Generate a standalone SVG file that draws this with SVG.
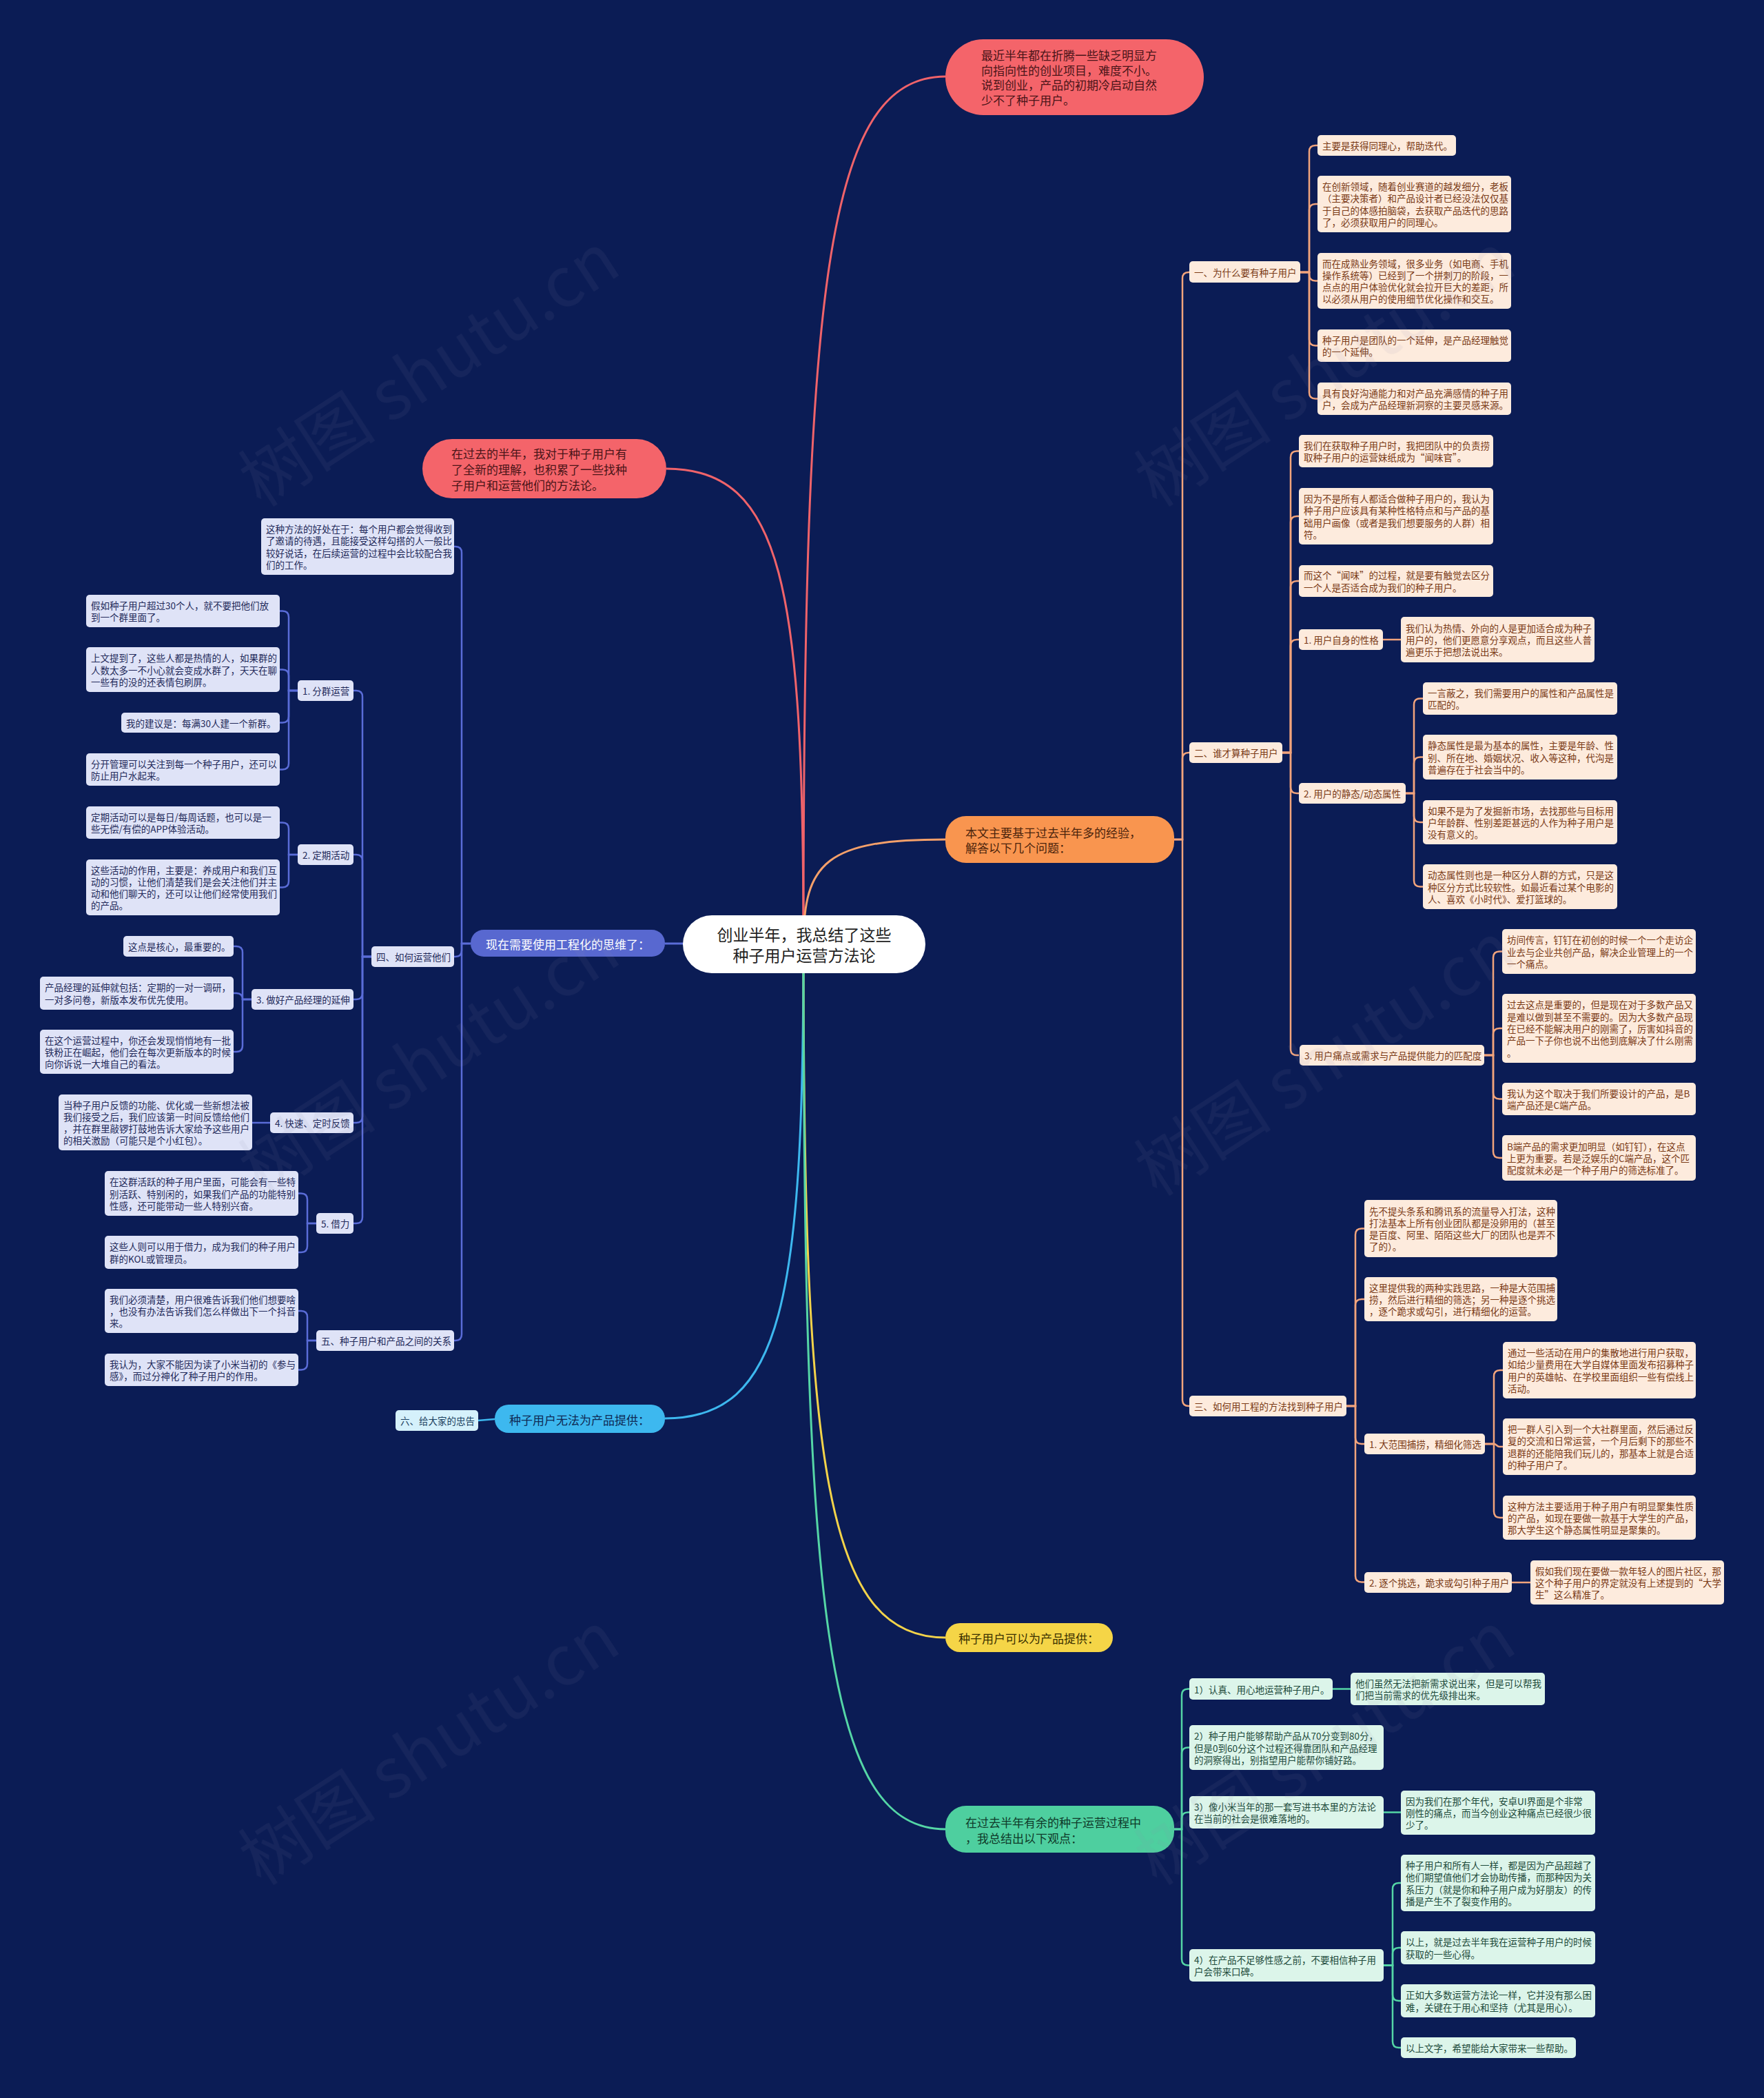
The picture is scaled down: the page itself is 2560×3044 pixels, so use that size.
<svg xmlns="http://www.w3.org/2000/svg" width="2560" height="3044" viewBox="0 0 2560 3044">
<style>
text{font-family:"Noto Sans CJK SC","Noto Sans",sans-serif;dominant-baseline:central}
.s{font-size:13.5px}
.m{font-size:17px}
.ot{fill:#7a3a16}
.lt{fill:#232a5a}
.gt{fill:#1d4a3a}
.ob{fill:#fdebdd}
.lb{fill:#dfe3f7}
.gb{fill:#dcf5ea}
.co{stroke:#f2a47c;fill:none;stroke-width:2.5}
.cb{stroke:#5a6cd8;fill:none;stroke-width:2.5}
.cg{stroke:#55d6a6;fill:none;stroke-width:2.5}
.cc{stroke:#3db8ef;fill:none;stroke-width:2.5}
.r0{stroke-width:3;fill:none}
</style>
<rect width="2560" height="3044" fill="#0b1c55"/>

<g id="connectors">
  <path class="r0" stroke="#f0636a" d="M1166 1370 C1166 426 1197 111 1372 111"/>
  <path class="r0" stroke="#f0636a" d="M1166 1370 C1166 852 1136 680 967 680"/>
  <path class="r0" stroke="#f5a06a" d="M1166 1370 C1166 1250 1200 1218 1372 1218"/>
  <path class="r0" stroke="#5a6cd8" d="M1166 1369 H965"/>
  <path class="r0" stroke="#3db8ef" d="M1166 1370 C1166 1886 1136 2058 965 2058"/>
  <path class="r0" stroke="#f3d34a" d="M1166 1370 C1166 2124 1197 2376 1372 2376"/>
  <path class="r0" stroke="#55d6a6" d="M1166 1370 C1166 2333 1197 2654 1372 2654"/>
  <path class="cc" d="M718 2059 L694 2061"/>

  <path class="co" d="M1704 1218 H1716 V404 Q1716 395 1725 395 H1726"/>
  <path class="co" d="M1704 1218 H1716 V1101 Q1716 1092 1725 1092 H1727"/>
  <path class="co" d="M1704 1218 H1716 V2031 Q1716 2040 1725 2040 H1726"/>

  <path class="co" d="M1887 395 H1900 V220 Q1900 211 1909 211 H1912"/>
  <path class="co" d="M1887 395 H1900 V305 Q1900 296 1909 296 H1912"/>
  <path class="co" d="M1887 395 H1900 V398.5 Q1900 407.5 1909 407.5 H1912"/>
  <path class="co" d="M1887 395 H1900 V492.5 Q1900 501.5 1909 501.5 H1912"/>
  <path class="co" d="M1887 395 H1900 V569.5 Q1900 578.5 1909 578.5 H1912"/>

  <path class="co" d="M1861 1092 H1873 V663.5 Q1873 654.5 1882 654.5 H1885"/>
  <path class="co" d="M1861 1092 H1873 V758 Q1873 749 1882 749 H1885"/>
  <path class="co" d="M1861 1092 H1873 V852 Q1873 843 1882 843 H1885"/>
  <path class="co" d="M1861 1092 H1873 V937 Q1873 928 1882 928 H1885"/>
  <path class="co" d="M1861 1092 H1873 V1142 Q1873 1151 1882 1151 H1885"/>
  <path class="co" d="M1861 1092 H1873 V1522 Q1873 1531 1882 1531 H1885"/>
  <path class="co" d="M2007 928 H2033"/>
  <path class="co" d="M2040 1151 H2052 V1022.5 Q2052 1013.5 2061 1013.5 H2065"/>
  <path class="co" d="M2040 1151 H2052 V1107.5 Q2052 1098.5 2061 1098.5 H2065"/>
  <path class="co" d="M2040 1151 H2052 V1184 Q2052 1193 2061 1193 H2065"/>
  <path class="co" d="M2040 1151 H2052 V1277.5 Q2052 1286.5 2061 1286.5 H2065"/>
  <path class="co" d="M2154 1531 H2167 V1389.5 Q2167 1380.5 2176 1380.5 H2180"/>
  <path class="co" d="M2154 1531 H2167 V1501 Q2167 1492 2176 1492 H2180"/>
  <path class="co" d="M2154 1531 H2167 V1585.5 Q2167 1594.5 2176 1594.5 H2180"/>
  <path class="co" d="M2154 1531 H2167 V1671 Q2167 1680 2176 1680 H2180"/>

  <path class="co" d="M1954 2040 H1967 V1791.5 Q1967 1782.5 1976 1782.5 H1980"/>
  <path class="co" d="M1954 2040 H1967 V1894 Q1967 1885 1976 1885 H1980"/>
  <path class="co" d="M1954 2040 H1967 V2086 Q1967 2095 1976 2095 H1980"/>
  <path class="co" d="M1954 2040 H1967 V2286.5 Q1967 2295.5 1976 2295.5 H1980"/>
  <path class="co" d="M2155 2095 H2168 V1997 Q2168 1988 2177 1988 H2181"/>
  <path class="co" d="M2155 2095 H2168 C2172 2095 2172 2099 2176 2099 H2181"/>
  <path class="co" d="M2155 2095 H2168 V2193 Q2168 2202 2177 2202 H2181"/>
  <path class="co" d="M2194 2296 H2221"/>

  <path class="cg" d="M1704 2654 H1715 V2459.5 Q1715 2450.5 1724 2450.5 H1726"/>
  <path class="cg" d="M1704 2654 H1715 V2544.5 Q1715 2535.5 1724 2535.5 H1726"/>
  <path class="cg" d="M1704 2654 H1715 V2638.5 Q1715 2629.5 1724 2629.5 H1726"/>
  <path class="cg" d="M1704 2654 H1715 V2842.5 Q1715 2851.5 1724 2851.5 H1726"/>
  <path class="cg" d="M1934 2450.5 H1960"/>
  <path class="cg" d="M2008 2629.5 H2033"/>
  <path class="cg" d="M2008 2851.5 H2021 V2741 Q2021 2732 2030 2732 H2033"/>
  <path class="cg" d="M2008 2851.5 H2021 V2835 Q2021 2826 2030 2826 H2033"/>
  <path class="cg" d="M2008 2851.5 H2021 V2894 Q2021 2903 2030 2903 H2033"/>
  <path class="cg" d="M2008 2851.5 H2021 V2962 Q2021 2971 2030 2971 H2033"/>

  <path class="cb" d="M683 1369 H670 V802 Q670 793 661 793 H659"/>
  <path class="cb" d="M683 1369 H670 V1379 Q670 1388 661 1388 H659"/>
  <path class="cb" d="M683 1369 H670 V1936 Q670 1945 661 1945 H659"/>
  <path class="cb" d="M539 1388 H526 V1011 Q526 1002 517 1002 H513"/>
  <path class="cb" d="M539 1388 H526 V1249 Q526 1240 517 1240 H513"/>
  <path class="cb" d="M539 1388 H526 V1441 Q526 1450 517 1450 H513"/>
  <path class="cb" d="M539 1388 H526 V1620 Q526 1629 517 1629 H513"/>
  <path class="cb" d="M539 1388 H526 V1766 Q526 1775 517 1775 H513"/>
  <path class="cb" d="M432 1002 H419 V895.5 Q419 886.5 410 886.5 H406"/>
  <path class="cb" d="M432 1002 H419 V980.5 Q419 971.5 410 971.5 H406"/>
  <path class="cb" d="M432 1002 H419 V1039.5 Q419 1048.5 410 1048.5 H406"/>
  <path class="cb" d="M432 1002 H419 V1107.5 Q419 1116.5 410 1116.5 H406"/>
  <path class="cb" d="M432 1240 H419 V1202.5 Q419 1193.5 410 1193.5 H406"/>
  <path class="cb" d="M432 1240 H419 V1278.5 Q419 1287.5 410 1287.5 H406"/>
  <path class="cb" d="M365 1450 H352 V1382 Q352 1373 343 1373 H339"/>
  <path class="cb" d="M365 1450 H352 Q352 1441 343 1441 H339"/>
  <path class="cb" d="M365 1450 H352 V1517 Q352 1526 343 1526 H339"/>
  <path class="cb" d="M392 1629 H366"/>
  <path class="cb" d="M459 1775 H446 V1740.5 Q446 1731.5 437 1731.5 H433"/>
  <path class="cb" d="M459 1775 H446 V1808 Q446 1817 437 1817 H433"/>
  <path class="cb" d="M459 1945 H446 V1911 Q446 1902 437 1902 H433"/>
  <path class="cb" d="M459 1945 H446 V1978.5 Q446 1987.5 437 1987.5 H433"/>
</g>

<g id="root">
  <rect x="991" y="1328" width="352" height="84" rx="42" fill="#ffffff"/>
  <text x="1167" text-anchor="middle" font-size="23" fill="#222"><tspan x="1167" y="1355">创业半年，我总结了这些</tspan><tspan x="1167" y="1385">种子用户运营方法论</tspan></text>
</g>

<g id="top-red">
  <rect x="1372" y="57" width="375" height="110" rx="55" fill="#f4646a"/>
  <text class="m" fill="#4a1418"><tspan x="1424" y="79">最近半年都在折腾一些缺乏明显方</tspan><tspan x="1424" y="100.5">向指向性的创业项目，难度不小。</tspan><tspan x="1424" y="122">说到创业，产品的初期冷启动自然</tspan><tspan x="1424" y="143.5">少不了种子用户。</tspan></text>
</g>
<g id="left-red">
  <rect x="613" y="637" width="354" height="86" rx="43" fill="#f4646a"/>
  <text class="m" fill="#4a1418"><tspan x="655" y="657.3">在过去的半年，我对于种子用户有</tspan><tspan x="655" y="680">了全新的理解，也积累了一些找种</tspan><tspan x="655" y="702.7">子用户和运营他们的方法论。</tspan></text>
</g>
<g id="orange">
  <rect x="1372" y="1184" width="332" height="68" rx="30" fill="#f9954f"/>
  <text class="m" fill="#4a230c"><tspan x="1401" y="1206.6">本文主要基于过去半年多的经验，</tspan><tspan x="1401" y="1229.3">解答以下几个问题：</tspan></text>
</g>
<g id="blue">
  <rect x="683" y="1349" width="282" height="39" rx="19" fill="#5868d0"/>
  <text class="m" fill="#ffffff" x="824" y="1369" text-anchor="middle">现在需要使用工程化的思维了：</text>
</g>
<g id="cyan">
  <rect x="718" y="2038" width="247" height="41" rx="20" fill="#3db8ef"/>
  <text class="m" fill="#0f2a55" x="841" y="2059" text-anchor="middle">种子用户无法为产品提供：</text>
</g>
<g id="six">
  <rect x="574" y="2046" width="120" height="30" rx="5" fill="#d5f1fb"/>
  <text class="s" fill="#1a4060" x="581" y="2061">六、给大家的忠告</text>
</g>
<g id="yellow">
  <rect x="1372" y="2355" width="243" height="42" rx="21" fill="#f5d547"/>
  <text class="m" fill="#3a3000" x="1493" y="2376" text-anchor="middle">种子用户可以为产品提供：</text>
</g>
<g id="green">
  <rect x="1372" y="2620" width="332" height="68" rx="30" fill="#4ecf9f"/>
  <text class="m" fill="#0f3a2a"><tspan x="1401" y="2643">在过去半年有余的种子运营过程中</tspan><tspan x="1401" y="2666">，我总结出以下观点：</tspan></text>
</g>

<g id="n-yi"><rect class="ob" x="1726" y="379" width="161" height="31" rx="5"/><text class="s ot" x="1733" y="395">一、为什么要有种子用户</text></g>
<g id="n-yi-1"><rect class="ob" x="1912" y="196" width="201" height="30" rx="5"/><text class="s ot" x="1919" y="211">主要是获得同理心，帮助迭代。</text></g>
<g id="n-yi-2"><rect class="ob" x="1912" y="255" width="281" height="82" rx="5"/><text class="s ot"><tspan x="1919" y="270">在创新领域，随着创业赛道的越发细分，老板</tspan><tspan x="1919" y="287.3">（主要决策者）和产品设计者已经没法仅仅基</tspan><tspan x="1919" y="304.6">于自己的体感拍脑袋，去获取产品迭代的思路</tspan><tspan x="1919" y="321.9">了，必须获取用户的同理心。</tspan></text></g>
<g id="n-yi-3"><rect class="ob" x="1912" y="367" width="281" height="81" rx="5"/><text class="s ot"><tspan x="1919" y="381.5">而在成熟业务领域，很多业务（如电商、手机</tspan><tspan x="1919" y="398.8">操作系统等）已经到了一个拼刺刀的阶段，一</tspan><tspan x="1919" y="416.1">点点的用户体验优化就会拉开巨大的差距，所</tspan><tspan x="1919" y="433.4">以必须从用户的使用细节优化操作和交互。</tspan></text></g>
<g id="n-yi-4"><rect class="ob" x="1912" y="478" width="281" height="47" rx="5"/><text class="s ot"><tspan x="1919" y="492.8">种子用户是团队的一个延伸，是产品经理触觉</tspan><tspan x="1919" y="510.1">的一个延伸。</tspan></text></g>
<g id="n-yi-5"><rect class="ob" x="1912" y="555" width="281" height="47" rx="5"/><text class="s ot"><tspan x="1919" y="569.8">具有良好沟通能力和对产品充满感情的种子用</tspan><tspan x="1919" y="587.1">户，会成为产品经理新洞察的主要灵感来源。</tspan></text></g>

<g id="n-er"><rect class="ob" x="1726" y="1077" width="135" height="30" rx="5"/><text class="s ot" x="1733" y="1092">二、谁才算种子用户</text></g>
<g id="n-er-1"><rect class="ob" x="1885" y="631" width="282" height="47" rx="5"/><text class="s ot"><tspan x="1892" y="645.8">我们在获取种子用户时，我把团队中的负责捞</tspan><tspan x="1892" y="663.1">取种子用户的运营妹纸成为“闻味官”。</tspan></text></g>
<g id="n-er-2"><rect class="ob" x="1885" y="708" width="282" height="82" rx="5"/><text class="s ot"><tspan x="1892" y="723">因为不是所有人都适合做种子用户的，我认为</tspan><tspan x="1892" y="740.3">种子用户应该具有某种性格特点和与产品的基</tspan><tspan x="1892" y="757.6">础用户画像（或者是我们想要服务的人群）相</tspan><tspan x="1892" y="774.9">符。</tspan></text></g>
<g id="n-er-3"><rect class="ob" x="1885" y="820" width="282" height="46" rx="5"/><text class="s ot"><tspan x="1892" y="834.3">而这个“闻味”的过程，就是要有触觉去区分</tspan><tspan x="1892" y="851.6">一个人是否适合成为我们的种子用户。</tspan></text></g>
<g id="n-er-4"><rect class="ob" x="1885" y="913" width="122" height="30" rx="5"/><text class="s ot" x="1892" y="928">1. 用户自身的性格</text></g>
<g id="n-er-4-1"><rect class="ob" x="2033" y="895" width="281" height="66" rx="5"/><text class="s ot"><tspan x="2040" y="910.7">我们认为热情、外向的人是更加适合成为种子</tspan><tspan x="2040" y="928">用户的，他们更愿意分享观点，而且这些人普</tspan><tspan x="2040" y="945.3">遍更乐于把想法说出来。</tspan></text></g>
<g id="n-er-5"><rect class="ob" x="1885" y="1136" width="155" height="30" rx="5"/><text class="s ot" x="1892" y="1151">2. 用户的静态/动态属性</text></g>
<g id="n-er-5-1"><rect class="ob" x="2065" y="990" width="282" height="47" rx="5"/><text class="s ot"><tspan x="2072" y="1004.8">一言蔽之，我们需要用户的属性和产品属性是</tspan><tspan x="2072" y="1022.1">匹配的。</tspan></text></g>
<g id="n-er-5-2"><rect class="ob" x="2065" y="1066" width="282" height="65" rx="5"/><text class="s ot"><tspan x="2072" y="1081.2">静态属性是最为基本的属性，主要是年龄、性</tspan><tspan x="2072" y="1098.5">别、所在地、婚姻状况、收入等这种，代沟是</tspan><tspan x="2072" y="1115.8">普遍存在于社会当中的。</tspan></text></g>
<g id="n-er-5-3"><rect class="ob" x="2065" y="1161" width="282" height="64" rx="5"/><text class="s ot"><tspan x="2072" y="1175.7">如果不是为了发掘新市场，去找那些与目标用</tspan><tspan x="2072" y="1193">户年龄群、性别差距甚远的人作为种子用户是</tspan><tspan x="2072" y="1210.3">没有意义的。</tspan></text></g>
<g id="n-er-5-4"><rect class="ob" x="2065" y="1254" width="282" height="65" rx="5"/><text class="s ot"><tspan x="2072" y="1269.2">动态属性则也是一种区分人群的方式，只是这</tspan><tspan x="2072" y="1286.5">种区分方式比较软性。如最近看过某个电影的</tspan><tspan x="2072" y="1303.8">人、喜欢《小时代》、爱打篮球的。</tspan></text></g>
<g id="n-er-6"><rect class="ob" x="1886" y="1516" width="268" height="30" rx="5"/><text class="s ot" x="1893" y="1531">3. 用户痛点或需求与产品提供能力的匹配度</text></g>
<g id="n-er-6-1"><rect class="ob" x="2180" y="1348" width="281" height="65" rx="5"/><text class="s ot"><tspan x="2187" y="1363.2">坊间传言，钉钉在初创的时候一个一个走访企</tspan><tspan x="2187" y="1380.5">业去与企业共创产品，解决企业管理上的一个</tspan><tspan x="2187" y="1397.8">一个痛点。</tspan></text></g>
<g id="n-er-6-2"><rect class="ob" x="2180" y="1442" width="281" height="100" rx="5"/><text class="s ot"><tspan x="2187" y="1457.4">过去这点是重要的，但是现在对于多数产品又</tspan><tspan x="2187" y="1474.7">是难以做到甚至不需要的。因为大多数产品现</tspan><tspan x="2187" y="1492">在已经不能解决用户的刚需了，厉害如抖音的</tspan><tspan x="2187" y="1509.3">产品一下子你也说不出他到底解决了什么刚需</tspan><tspan x="2187" y="1526.6">。</tspan></text></g>
<g id="n-er-6-3"><rect class="ob" x="2180" y="1571" width="281" height="47" rx="5"/><text class="s ot"><tspan x="2187" y="1585.8">我认为这个取决于我们所要设计的产品，是B</tspan><tspan x="2187" y="1603.1">端产品还是C端产品。</tspan></text></g>
<g id="n-er-6-4"><rect class="ob" x="2180" y="1647" width="281" height="66" rx="5"/><text class="s ot"><tspan x="2187" y="1662.7">B端产品的需求更加明显（如钉钉），在这点</tspan><tspan x="2187" y="1680">上更为重要。若是泛娱乐的C端产品，这个匹</tspan><tspan x="2187" y="1697.3">配度就未必是一个种子用户的筛选标准了。</tspan></text></g>

<g id="n-san"><rect class="ob" x="1726" y="2025" width="228" height="30" rx="5"/><text class="s ot" x="1733" y="2040">三、如何用工程的方法找到种子用户</text></g>
<g id="n-san-1"><rect class="ob" x="1980" y="1741" width="280" height="83" rx="5"/><text class="s ot"><tspan x="1987" y="1756.5">先不提头条系和腾讯系的流量导入打法，这种</tspan><tspan x="1987" y="1773.8">打法基本上所有创业团队都是没卵用的（甚至</tspan><tspan x="1987" y="1791.1">是百度、阿里、陌陌这些大厂的团队也是弄不</tspan><tspan x="1987" y="1808.4">了的）。</tspan></text></g>
<g id="n-san-2"><rect class="ob" x="1980" y="1853" width="280" height="64" rx="5"/><text class="s ot"><tspan x="1987" y="1867.7">这里提供我的两种实践思路，一种是大范围捕</tspan><tspan x="1987" y="1885">捞，然后进行精细的筛选；另一种是逐个挑选</tspan><tspan x="1987" y="1902.3">，逐个跪求或勾引，进行精细化的运营。</tspan></text></g>
<g id="n-san-3"><rect class="ob" x="1980" y="2080" width="175" height="30" rx="5"/><text class="s ot" x="1987" y="2095">1. 大范围捕捞，精细化筛选</text></g>
<g id="n-san-3-1"><rect class="ob" x="2181" y="1947" width="280" height="82" rx="5"/><text class="s ot"><tspan x="2188" y="1962">通过一些活动在用户的集散地进行用户获取，</tspan><tspan x="2188" y="1979.3">如给少量费用在大学自媒体里面发布招募种子</tspan><tspan x="2188" y="1996.6">用户的英雄帖、在学校里面组织一些有偿线上</tspan><tspan x="2188" y="2013.9">活动。</tspan></text></g>
<g id="n-san-3-2"><rect class="ob" x="2181" y="2058" width="280" height="82" rx="5"/><text class="s ot"><tspan x="2188" y="2073">把一群人引入到一个大社群里面，然后通过反</tspan><tspan x="2188" y="2090.3">复的交流和日常运营，一个月后剩下的那些不</tspan><tspan x="2188" y="2107.6">退群的还能陪我们玩儿的，那基本上就是合适</tspan><tspan x="2188" y="2124.9">的种子用户了。</tspan></text></g>
<g id="n-san-3-3"><rect class="ob" x="2181" y="2170" width="280" height="64" rx="5"/><text class="s ot"><tspan x="2188" y="2184.7">这种方法主要适用于种子用户有明显聚集性质</tspan><tspan x="2188" y="2202">的产品，如现在要做一款基于大学生的产品，</tspan><tspan x="2188" y="2219.3">那大学生这个静态属性明显是聚集的。</tspan></text></g>
<g id="n-san-4"><rect class="ob" x="1980" y="2281" width="214" height="30" rx="5"/><text class="s ot" x="1987" y="2296">2. 逐个挑选，跪求或勾引种子用户</text></g>
<g id="n-san-4-1"><rect class="ob" x="2221" y="2264" width="281" height="64" rx="5"/><text class="s ot"><tspan x="2228" y="2278.7">假如我们现在要做一款年轻人的图片社区，那</tspan><tspan x="2228" y="2296">这个种子用户的界定就没有上述提到的“大学</tspan><tspan x="2228" y="2313.3">生”这么精准了。</tspan></text></g>

<g id="g-1"><rect class="gb" x="1726" y="2435" width="208" height="31" rx="5"/><text class="s gt" x="1733" y="2450.5">1）认真、用心地运营种子用户。</text></g>
<g id="g-1-1"><rect class="gb" x="1960" y="2427" width="282" height="47" rx="5"/><text class="s gt"><tspan x="1967" y="2441.8">他们虽然无法把新需求说出来，但是可以帮我</tspan><tspan x="1967" y="2459.1">们把当前需求的优先级排出来。</tspan></text></g>
<g id="g-2"><rect class="gb" x="1726" y="2503" width="282" height="65" rx="5"/><text class="s gt"><tspan x="1733" y="2518.2">2）种子用户能够帮助产品从70分变到80分，</tspan><tspan x="1733" y="2535.5">但是0到60分这个过程还得靠团队和产品经理</tspan><tspan x="1733" y="2552.8">的洞察得出，别指望用户能帮你铺好路。</tspan></text></g>
<g id="g-3"><rect class="gb" x="1726" y="2606" width="282" height="47" rx="5"/><text class="s gt"><tspan x="1733" y="2620.8">3）像小米当年的那一套写进书本里的方法论</tspan><tspan x="1733" y="2638.1">在当前的社会是很难落地的。</tspan></text></g>
<g id="g-3-1"><rect class="gb" x="2033" y="2598" width="282" height="64" rx="5"/><text class="s gt"><tspan x="2040" y="2612.7">因为我们在那个年代，安卓UI界面是个非常</tspan><tspan x="2040" y="2630">刚性的痛点，而当今创业这种痛点已经很少很</tspan><tspan x="2040" y="2647.3">少了。</tspan></text></g>
<g id="g-4"><rect class="gb" x="1726" y="2828" width="282" height="47" rx="5"/><text class="s gt"><tspan x="1733" y="2842.8">4）在产品不足够性感之前，不要相信种子用</tspan><tspan x="1733" y="2860.1">户会带来口碑。</tspan></text></g>
<g id="g-4-1"><rect class="gb" x="2033" y="2691" width="282" height="82" rx="5"/><text class="s gt"><tspan x="2040" y="2706">种子用户和所有人一样，都是因为产品超越了</tspan><tspan x="2040" y="2723.3">他们期望值他们才会协助传播，而那种因为关</tspan><tspan x="2040" y="2740.6">系压力（就是你和种子用户成为好朋友）的传</tspan><tspan x="2040" y="2757.9">播是产生不了裂变作用的。</tspan></text></g>
<g id="g-4-2"><rect class="gb" x="2033" y="2802" width="282" height="48" rx="5"/><text class="s gt"><tspan x="2040" y="2817.3">以上，就是过去半年我在运营种子用户的时候</tspan><tspan x="2040" y="2834.6">获取的一些心得。</tspan></text></g>
<g id="g-4-3"><rect class="gb" x="2033" y="2879" width="282" height="48" rx="5"/><text class="s gt"><tspan x="2040" y="2894.3">正如大多数运营方法论一样，它并没有那么困</tspan><tspan x="2040" y="2911.6">难，关键在于用心和坚持（尤其是用心）。</tspan></text></g>
<g id="g-4-4"><rect class="gb" x="2033" y="2956" width="254" height="30" rx="5"/><text class="s gt" x="2040" y="2971">以上文字，希望能给大家带来一些帮助。</text></g>

<g id="b-1"><rect class="lb" x="379" y="752" width="280" height="82" rx="5"/><text class="s lt"><tspan x="386" y="767">这种方法的好处在于：每个用户都会觉得收到</tspan><tspan x="386" y="784.3">了邀请的待遇，且能接受这样勾搭的人一般比</tspan><tspan x="386" y="801.6">较好说话，在后续运营的过程中会比较配合我</tspan><tspan x="386" y="818.9">们的工作。</tspan></text></g>
<g id="b-4"><rect class="lb" x="539" y="1373" width="120" height="30" rx="5"/><text class="s lt" x="546" y="1388">四、如何运营他们</text></g>
<g id="b-5"><rect class="lb" x="459" y="1930" width="200" height="30" rx="5"/><text class="s lt" x="466" y="1945">五、种子用户和产品之间的关系</text></g>
<g id="f-1"><rect class="lb" x="432" y="987" width="81" height="30" rx="5"/><text class="s lt" x="439" y="1002">1. 分群运营</text></g>
<g id="f-1-1"><rect class="lb" x="125" y="863" width="281" height="47" rx="5"/><text class="s lt"><tspan x="132" y="877.8">假如种子用户超过30个人，就不要把他们放</tspan><tspan x="132" y="895.1">到一个群里面了。</tspan></text></g>
<g id="f-1-2"><rect class="lb" x="125" y="939" width="281" height="65" rx="5"/><text class="s lt"><tspan x="132" y="954.2">上文提到了，这些人都是热情的人，如果群的</tspan><tspan x="132" y="971.5">人数太多一不小心就会变成水群了，天天在聊</tspan><tspan x="132" y="988.8">一些有的没的还表情包刷屏。</tspan></text></g>
<g id="f-1-3"><rect class="lb" x="176" y="1034" width="230" height="29" rx="5"/><text class="s lt" x="183" y="1048.5">我的建议是：每满30人建一个新群。</text></g>
<g id="f-1-4"><rect class="lb" x="125" y="1093" width="281" height="47" rx="5"/><text class="s lt"><tspan x="132" y="1107.8">分开管理可以关注到每一个种子用户，还可以</tspan><tspan x="132" y="1125.1">防止用户水起来。</tspan></text></g>
<g id="f-2"><rect class="lb" x="432" y="1225" width="81" height="30" rx="5"/><text class="s lt" x="439" y="1240">2. 定期活动</text></g>
<g id="f-2-1"><rect class="lb" x="125" y="1170" width="281" height="47" rx="5"/><text class="s lt"><tspan x="132" y="1184.8">定期活动可以是每日/每周话题，也可以是一</tspan><tspan x="132" y="1202.1">些无偿/有偿的APP体验活动。</tspan></text></g>
<g id="f-2-2"><rect class="lb" x="125" y="1247" width="281" height="81" rx="5"/><text class="s lt"><tspan x="132" y="1261.5">这些活动的作用，主要是：养成用户和我们互</tspan><tspan x="132" y="1278.8">动的习惯，让他们清楚我们是会关注他们并主</tspan><tspan x="132" y="1296.1">动和他们聊天的，还可以让他们经常使用我们</tspan><tspan x="132" y="1313.4">的产品。</tspan></text></g>
<g id="f-3"><rect class="lb" x="365" y="1435" width="148" height="30" rx="5"/><text class="s lt" x="372" y="1450">3. 做好产品经理的延伸</text></g>
<g id="f-3-1"><rect class="lb" x="179" y="1358" width="160" height="30" rx="5"/><text class="s lt" x="186" y="1373">这点是核心，最重要的。</text></g>
<g id="f-3-2"><rect class="lb" x="58" y="1417" width="281" height="48" rx="5"/><text class="s lt"><tspan x="65" y="1432.3">产品经理的延伸就包括：定期的一对一调研，</tspan><tspan x="65" y="1449.6">一对多问卷，新版本发布优先使用。</tspan></text></g>
<g id="f-3-3"><rect class="lb" x="58" y="1494" width="281" height="64" rx="5"/><text class="s lt"><tspan x="65" y="1508.7">在这个运营过程中，你还会发现悄悄地有一批</tspan><tspan x="65" y="1526">铁粉正在崛起，他们会在每次更新版本的时候</tspan><tspan x="65" y="1543.3">向你诉说一大堆自己的看法。</tspan></text></g>
<g id="f-4"><rect class="lb" x="392" y="1614" width="121" height="30" rx="5"/><text class="s lt" x="399" y="1629">4. 快速、定时反馈</text></g>
<g id="f-4-1"><rect class="lb" x="85" y="1588" width="281" height="81" rx="5"/><text class="s lt"><tspan x="92" y="1602.5">当种子用户反馈的功能、优化或一些新想法被</tspan><tspan x="92" y="1619.8">我们接受之后，我们应该第一时间反馈给他们</tspan><tspan x="92" y="1637.1">，并在群里敲锣打鼓地告诉大家给予这些用户</tspan><tspan x="92" y="1654.4">的相关激励（可能只是个小红包）。</tspan></text></g>
<g id="f-5"><rect class="lb" x="459" y="1760" width="54" height="30" rx="5"/><text class="s lt" x="466" y="1775">5. 借力</text></g>
<g id="f-5-1"><rect class="lb" x="152" y="1699" width="281" height="65" rx="5"/><text class="s lt"><tspan x="159" y="1714.2">在这群活跃的种子用户里面，可能会有一些特</tspan><tspan x="159" y="1731.5">别活跃、特别闲的，如果我们产品的功能特别</tspan><tspan x="159" y="1748.8">性感，还可能带动一些人特别兴奋。</tspan></text></g>
<g id="f-5-2"><rect class="lb" x="152" y="1793" width="281" height="48" rx="5"/><text class="s lt"><tspan x="159" y="1808.3">这些人则可以用于借力，成为我们的种子用户</tspan><tspan x="159" y="1825.6">群的KOL或管理员。</tspan></text></g>
<g id="h-1"><rect class="lb" x="152" y="1870" width="281" height="64" rx="5"/><text class="s lt"><tspan x="159" y="1884.7">我们必须清楚，用户很难告诉我们他们想要啥</tspan><tspan x="159" y="1902">，也没有办法告诉我们怎么样做出下一个抖音</tspan><tspan x="159" y="1919.3">来。</tspan></text></g>
<g id="h-2"><rect class="lb" x="152" y="1964" width="281" height="47" rx="5"/><text class="s lt"><tspan x="159" y="1978.8">我认为，大家不能因为读了小米当初的《参与</tspan><tspan x="159" y="1996.1">感》，而过分神化了种子用户的作用。</tspan></text></g>

<g id="watermark" fill="#8a90aa" opacity="0.09" font-size="100" style="font-family:'Liberation Serif','Noto Sans CJK SC',serif">
  <text transform="translate(355 700) rotate(-33)">树图 shutu.cn</text>
  <text transform="translate(355 1700) rotate(-33)">树图 shutu.cn</text>
  <text transform="translate(355 2700) rotate(-33)">树图 shutu.cn</text>
  <text transform="translate(1655 700) rotate(-33)">树图 shutu.cn</text>
  <text transform="translate(1655 1700) rotate(-33)">树图 shutu.cn</text>
  <text transform="translate(1655 2700) rotate(-33)">树图 shutu.cn</text>
</g>
</svg>
